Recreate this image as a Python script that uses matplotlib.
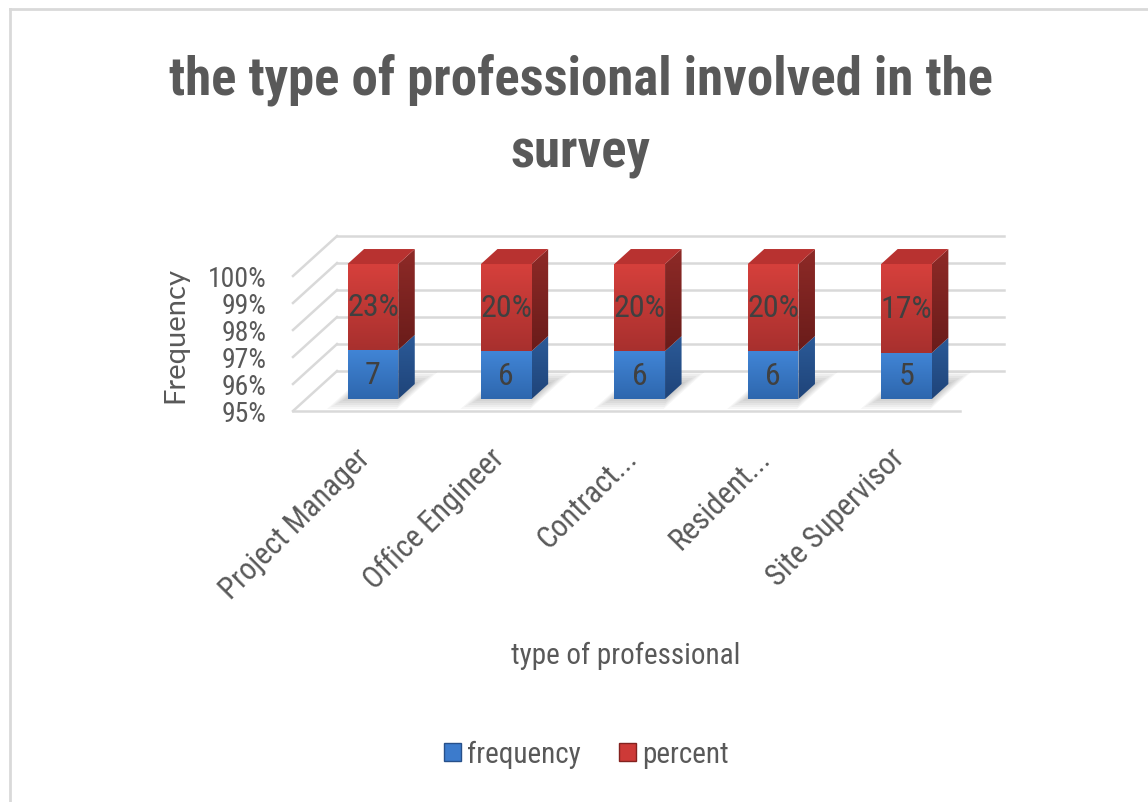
import numpy as np
import matplotlib.pyplot as plt
from matplotlib.patches import Polygon, Patch
from matplotlib.colors import to_rgb
from matplotlib import font_manager

# データ
categories = ["Project Manager", "Office Engineer", "Contract...", "Resident...", "Site Supervisor"]
frequency = [7, 6, 6, 6, 5]
percent = [0.23, 0.20, 0.20, 0.20, 0.17]
percent_labels = ["23%", "20%", "20%", "20%", "17%"]
y_ticks = [95, 96, 97, 98, 99, 100]
y_tick_labels = ["95%", "96%", "97%", "98%", "99%", "100%"]

# フォント選択
installed = {f.name for f in font_manager.fontManager.ttflist}
def pick(*names):
    for n in names:
        if n in installed:
            return n
    return "DejaVu Sans"

NARROW = pick("Liberation Sans Narrow", "Roboto Condensed", "Open Sans Condensed", "Liberation Sans")
WIDE = pick("Lato", "Open Sans", "Liberation Sans")

TEXT = "#595959"
GRID = "#d9d9d9"

# 疑似3Dの奥行き (データ座標)
DX, DY = 0.33, 1.48
D0, D1 = 0.3, 0.675
BAR_W = 0.38

def P(x, y, d):
    return (x + d * DX, y + d * DY)

fig = plt.figure(figsize=(11.48, 8.03), dpi=100)
ax = fig.add_axes([293 / 1148, 1 - 412 / 803, 667 / 1148, 135 / 803])
for s in ax.spines.values():
    s.set_visible(False)
ax.set_facecolor("none")

# 外枠 (上と左のみ見える)
fig.add_artist(plt.Line2D([10 / 1148, 1], [1 - 10 / 803] * 2, color=GRID, lw=2))
fig.add_artist(plt.Line2D([10 / 1148] * 2, [0, 1 - 10 / 803], color=GRID, lw=2))

# 壁と床
x0, x1 = -0.5, len(categories) - 0.5
for y in y_ticks:
    a, b = P(x0, y, 1), P(x1, y, 1)
    ax.plot([a[0], b[0]], [a[1], b[1]], color=GRID, lw=1.8, clip_on=False, zorder=1)
    a, b = P(x0, y, 0), P(x0, y, 1)
    ax.plot([a[0], b[0]], [a[1], b[1]], color=GRID, lw=1.8, clip_on=False, zorder=1)
a, b = P(x0, 95, 0), P(x1, 95, 0)
ax.plot([a[0], b[0]], [a[1], b[1]], color=GRID, lw=1.8, clip_on=False, zorder=1)

def face(pts, color, z):
    ax.add_patch(Polygon(pts, closed=True, facecolor=color, edgecolor="none",
                         clip_on=False, zorder=z))

def grad_face(pts, c_top, c_bot, z):
    poly = Polygon(pts, closed=True, facecolor="none", edgecolor="none",
                   transform=ax.transData)
    ax.add_patch(poly)
    xs, ys = zip(*pts)
    t = np.linspace(0, 1, 64)[:, None, None]
    arr = (1 - t) * np.array(to_rgb(c_top)) + t * np.array(to_rgb(c_bot))
    arr = np.repeat(arr, 2, axis=1)
    im = ax.imshow(arr, extent=[min(xs), max(xs), min(ys), max(ys)],
                   aspect="auto", zorder=z, interpolation="bilinear")
    im.set_clip_box(fig.bbox)
    im.set_clip_path(poly)

for i, (f, p) in enumerate(zip(frequency, percent)):
    split = 100 * f / (f + p)
    l, r = i - BAR_W / 2, i + BAR_W / 2

    # 影
    for k in range(6):
        m = 0.012 * (k + 1)
        md = 0.05 * (k + 1)
        face([P(l - m, 95, D0 + 0.05 - md), P(r + m, 95, D0 + 0.05 - md),
              P(r + m, 95, D1 + md), P(l - m, 95, D1 + md)],
             (0, 0, 0, 0.035), 2)

    segs = [(95, split, ("#4185d6", "#2e67ae"), ("#2b5a98", "#1f4479")),
            (split, 100, ("#d6403c", "#a8302e"), ("#8e2a27", "#6a1c1a"))]
    for yb, yt, cf, cs in segs:
        grad_face([P(l, yb, D0), P(r, yb, D0), P(r, yt, D0), P(l, yt, D0)], cf[0], cf[1], 3)
        grad_face([P(r, yb, D0), P(r, yb, D1), P(r, yt, D1), P(r, yt, D0)], cs[0], cs[1], 3)
    face([P(l, 100, D0), P(r, 100, D0), P(r, 100, D1), P(l, 100, D1)], "#b83230", 3)

    # ラベル
    cx, cy = P(i, (95 + split) / 2, D0)
    ax.text(cx, cy, str(f), ha="center", va="center", fontsize=23,
            family=NARROW, color="#404040", zorder=4)
    cx, cy = P(i, (split + 100) / 2, D0)
    ax.text(cx, cy, percent_labels[i], ha="center", va="center", fontsize=23,
            family=NARROW, color="#404040", zorder=4)

ax.set_xlim(x0, x1)
ax.set_ylim(95, 100)
ax.set_yticks(y_ticks, y_tick_labels)
ax.tick_params(axis="y", length=0, pad=19, labelsize=20, labelcolor=TEXT)
for t in ax.get_yticklabels():
    t.set_family(NARROW)
ax.set_xticks([])

for i, name in enumerate(categories):
    ax.annotate(name, xy=(i, 95), xycoords="data", xytext=(6, -42),
                textcoords="offset pixels", ha="right", va="center",
                rotation=45, rotation_mode="anchor", fontsize=22,
                family=NARROW, color=TEXT)

fig.text(175 / 1148, 1 - 335 / 803, "Frequency", rotation=90, ha="center",
         va="center", fontsize=21, family=WIDE, color=TEXT)
fig.text(626 / 1148, 1 - 656 / 803, "type of professional", ha="center",
         va="center", fontsize=21, family=NARROW, color=TEXT)
fig.text(581 / 1148, 1 - 116 / 803, "the type of professional involved in the\nsurvey",
         ha="center", va="center", fontsize=38, fontweight="bold",
         family=NARROW, color=TEXT, linespacing=1.55)

handles = [Patch(facecolor="#3c7bcc", edgecolor="#27508a"),
           Patch(facecolor="#cd3a37", edgecolor="#83221f")]
fig.legend(handles, ["frequency", "percent"], loc="center",
           bbox_to_anchor=(586 / 1148, 1 - 755 / 803), ncol=2, frameon=False,
           handlelength=0.6, handleheight=0.6, handletextpad=0.2,
           columnspacing=1.3, prop={"family": NARROW, "size": 21},
           labelcolor=TEXT)

fig.savefig("out.png", dpi=100, facecolor="white")
